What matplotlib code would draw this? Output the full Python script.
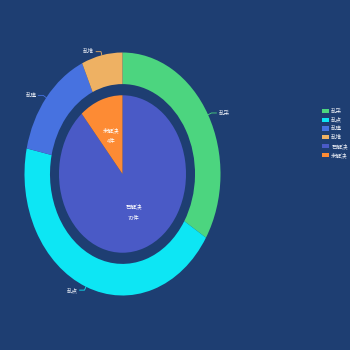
import numpy as np
import matplotlib
matplotlib.use("Agg")
import matplotlib.pyplot as plt

plt.rcParams["font.family"] = ["Noto Sans CJK SC", "DejaVu Sans"]

# 问题类型（外环）
outer_names = ["乱采", "乱点", "乱建", "乱堆"]
outer_values = [25, 33, 11, 5]
outer_colors = ["#4cd57f", "#0de6f4", "#4772e0", "#eeb163"]

# 处理情况（内饼）
inner_names = ["已解决", "未解决"]
inner_values = [70, 4]
inner_units = ["70件", "4件"]
inner_colors = ["#4a5ac6", "#fd8b34"]

BG = "#1e3e72"
MIN_ANGLE = 40  # 最小扇区角度（度）


def angles_with_min(values, min_angle):
    # 类似 echarts 的 minAngle：小扇区补足到最小角度，其余按比例分配
    vals = np.asarray(values, dtype=float)
    ang = vals / vals.sum() * 360
    small = ang < min_angle
    rest = 360 - min_angle * small.sum()
    ang[~small] = vals[~small] / vals[~small].sum() * rest
    ang[small] = min_angle
    return ang


fig = plt.figure(figsize=(3.5, 3.5), dpi=100, facecolor=BG)
ax = fig.add_axes([0, 0, 1, 1])
ax.set_facecolor(BG)

outer_w, _ = ax.pie(outer_values, radius=1.0, colors=outer_colors,
                    startangle=90, counterclock=False,
                    wedgeprops=dict(width=0.26, linewidth=0))

inner_ang = angles_with_min(inner_values, MIN_ANGLE)
inner_w, _ = ax.pie(inner_ang, radius=0.648, colors=inner_colors,
                    startangle=90, counterclock=False,
                    wedgeprops=dict(linewidth=0))

# 拉伸成椭圆
ax.set_aspect("auto")
ax.set_xlim(-122.5 / 98, (350 - 122.5) / 98)
ax.set_ylim(-(350 - 174) / 121.5, 174 / 121.5)
ax.axis("off")

# 外环标签 + 引导线
for w, name, c in zip(outer_w, outer_names, outer_colors):
    mid = np.deg2rad((w.theta1 + w.theta2) / 2)
    x0, y0 = np.cos(mid) * 1.0, np.sin(mid) * 1.0
    x1, y1 = np.cos(mid) * 1.04, np.sin(mid) * 1.03
    sgn = 1 if np.cos(mid) >= 0 else -1
    x2 = x1 + sgn * 0.05
    ax.plot([x0, x1, x2], [y0, y1, y1], color=c, lw=0.6)
    ax.text(x2 + sgn * 0.02, y1, name, fontsize=4, color="#e8ecf4",
            ha="left" if sgn > 0 else "right", va="center")

# 内饼标签
for w, name, unit in zip(inner_w, inner_names, inner_units):
    mid = np.deg2rad((w.theta1 + w.theta2) / 2)
    r = 0.335
    x, y = np.cos(mid) * r, np.sin(mid) * r
    ax.text(x, y + 0.05, name, fontsize=4, color="white", ha="center", va="center")
    ax.text(x, y - 0.05, unit, fontsize=4, color="white", ha="center", va="center")

fig.legend(list(outer_w) + list(inner_w), outer_names + inner_names,
           loc="upper left", bbox_to_anchor=(319 / 350, 1 - 106 / 350),
           frameon=False, fontsize=4, labelcolor="#e8ecf4",
           handlelength=1.3, handleheight=0.8, handletextpad=0.4,
           labelspacing=0.6, borderpad=0)

fig.savefig("out.png", dpi=100, facecolor=BG)
